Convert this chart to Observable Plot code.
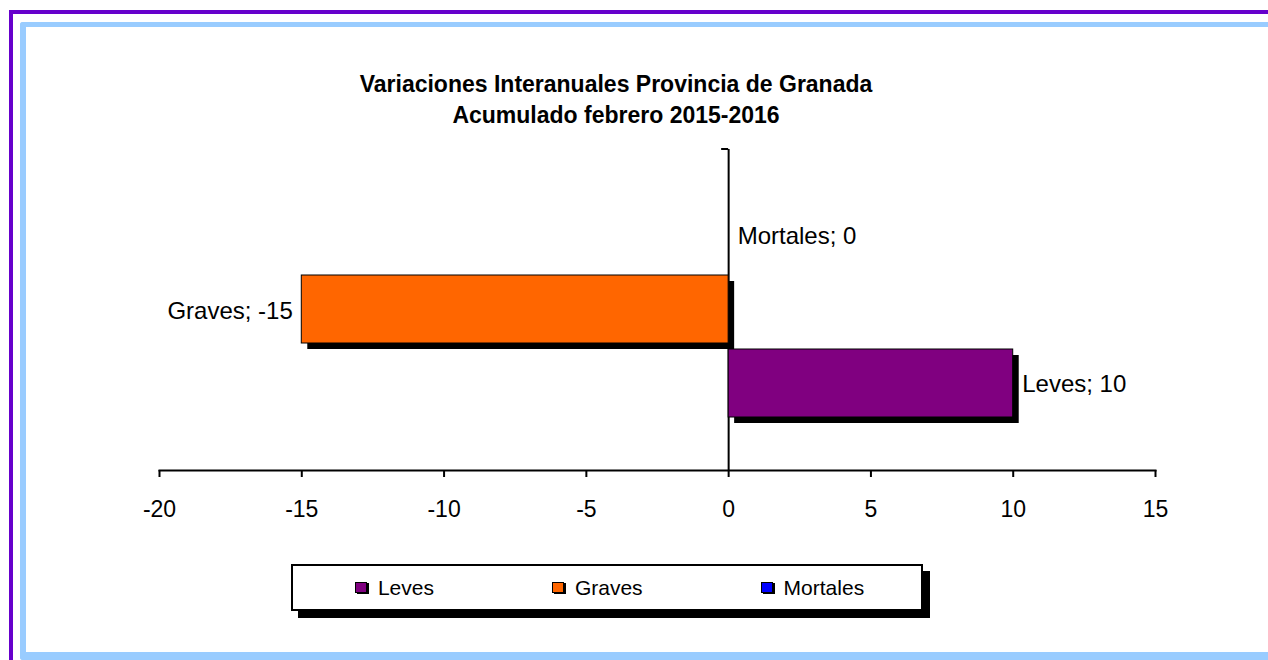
<!DOCTYPE html>
<html>
<head>
<meta charset="utf-8">
<script src="https://cdn.jsdelivr.net/npm/d3@7"></script>
<script src="https://cdn.jsdelivr.net/npm/@observablehq/plot@0.6"></script>
<style>
  html, body { margin: 0; padding: 0; background: #fff; }
  #wrap { position: relative; width: 1268px; height: 660px; overflow: hidden; background: #fff;
          font-family: "Liberation Sans", Arial, sans-serif; color: #000; }
  .abs { position: absolute; }
  #outer { left: 9px; top: 10px; width: 1400px; height: 800px;
           border-left: 4px solid #6600CC; border-top: 4px solid #6600CC; }
  #inner { left: 20px; top: 22px; width: 1400px; height: 625px;
           border-left: 6px solid #99CCFF; border-top: 5px solid #99CCFF; border-bottom: 8px solid #99CCFF;
           border-top-left-radius: 3px; border-bottom-left-radius: 3px; }
  #title { left: 0; width: 1232px; top: 69px; text-align: center; font-weight: bold; font-size: 23px; }
  #title div { height: 31px; line-height: 31px; }
  #chart { left: 0; top: 0; }
  #legend { left: 291px; top: 564px; width: 623px; height: 43px; border: 2px solid #000;
            box-shadow: 7px 7px 0 #000; background: #fff; display: flex; align-items: center;
            justify-content: center; padding-left: 5px; box-sizing: content-box; }
  .item { display: flex; align-items: center; font-size: 21px; margin: 0 59px; }
  .key { width: 10px; height: 9px; border: 1px solid #000; box-shadow: 2px 1px 0 #000; margin-right: 11px; }
</style>
</head>
<body>
<div id="wrap">
  <div id="outer" class="abs"></div>
  <div id="inner" class="abs"></div>
  <div id="chart" class="abs"></div>
  <div id="title" class="abs"></div>
  <div id="legend" class="abs"></div>
</div>
<script>
// ---- data ----
const categories = ["Leves", "Graves", "Mortales"];
const values = [10, -15, 0];
const colors = ["#800080", "#FF6600", "#0000FF"];
const xTicks = [-20, -15, -10, -5, 0, 5, 10, 15];
const xDomain = [-20, 15];
const titleLines = ["Variaciones Interanuales Provincia de Granada", "Acumulado febrero 2015-2016"];

const data = categories.map((cat, i) => ({cat, value: values[i]}));

// title
const titleEl = document.getElementById("title");
titleLines.forEach(t => { const d = document.createElement("div"); d.textContent = t; titleEl.appendChild(d); });

// top category-axis tick (drawn with the plot's own scales)
function topTick(index, scales, chVals, dims) {
  const g = d3.create("svg:g");
  const x0 = scales.x(0);
  g.append("line")
    .attr("x1", x0 - 7).attr("x2", x0)
    .attr("y1", dims.marginTop).attr("y2", dims.marginTop)
    .attr("stroke", "#000").attr("stroke-width", 2);
  return g.node();
}

const plot = Plot.plot({
  width: 1268,
  height: 660,
  marginLeft: 159,
  marginRight: 113,
  marginTop: 149,
  marginBottom: 190,
  style: {background: "transparent", fontFamily: "'Liberation Sans', Arial, sans-serif", color: "#000", overflow: "visible"},
  x: {domain: xDomain, axis: null, label: null},
  y: {domain: [...categories].reverse(), axis: null, label: null, paddingInner: 0.08, paddingOuter: 0.69},
  color: {domain: categories, range: colors},
  marks: [
    Plot.barX(data, {x1: 0, x2: "value", y: "cat", fill: "#000", dx: 6, dy: 6}),
    Plot.ruleX([0], {stroke: "#000", strokeWidth: 2}),
    Plot.barX(data, {x1: 0, x2: "value", y: "cat", fill: "cat", stroke: "#000", strokeWidth: 1}),
    Plot.frame({anchor: "bottom", stroke: "#000", strokeWidth: 2}),
    Plot.axisX({ticks: xTicks, tickSize: 7, tickPadding: 23, strokeWidth: 2, fontSize: 23, label: null,
                tickFormat: d => String(d), fill: "#000", stroke: "#000"}),
    topTick,
    Plot.text(data.filter(d => d.value < 0), {
      x: "value", y: "cat", text: d => `${d.cat}; ${d.value}`,
      textAnchor: "end", dx: -9, dy: 2, fontSize: 24, fill: "#000"
    }),
    Plot.text(data.filter(d => d.value >= 0), {
      x: "value", y: "cat", text: d => `${d.cat}; ${d.value}`,
      textAnchor: "start", dx: 9, dy: 1, fontSize: 24, fill: "#000"
    })
  ]
});
document.getElementById("chart").appendChild(plot);

// legend
const legend = document.getElementById("legend");
categories.forEach((c, i) => {
  const it = document.createElement("div");
  it.className = "item";
  const k = document.createElement("span");
  k.className = "key";
  k.style.background = colors[i];
  const t = document.createElement("span");
  t.textContent = c;
  it.appendChild(k); it.appendChild(t);
  legend.appendChild(it);
});
</script>
</body>
</html>
